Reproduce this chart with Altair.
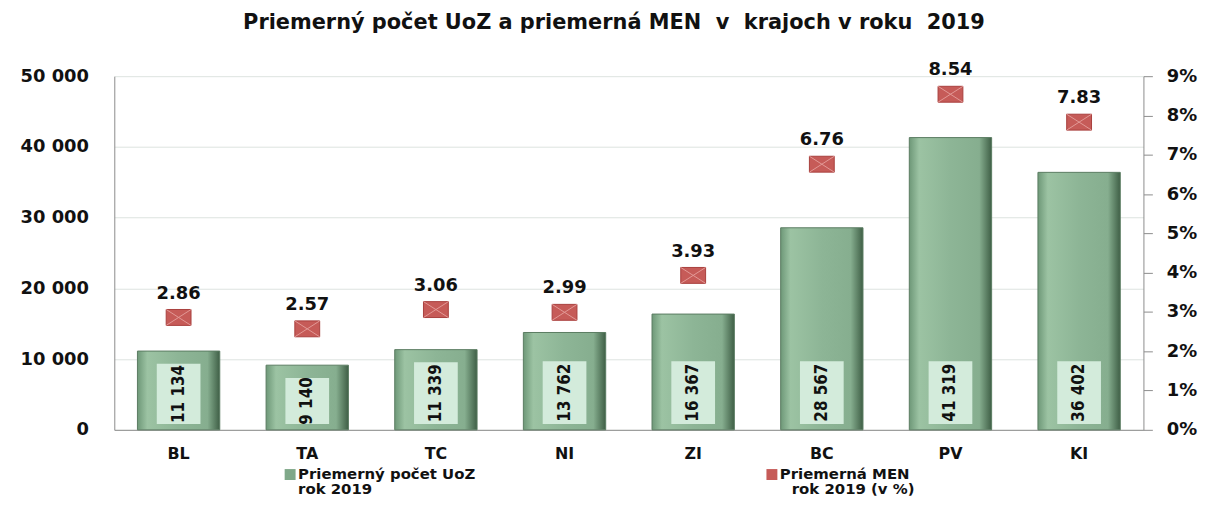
import altair as alt
import pandas as pd

regions = ["BL", "TA", "TC", "NI", "ZI", "BC", "PV", "KI"]
uoz = [11134, 9140, 11339, 13762, 16367, 28567, 41319, 36402]
men = [2.86, 2.57, 3.06, 2.99, 3.93, 6.76, 8.54, 7.83]

title_text = "Priemerný počet UoZ a priemerná MEN \u00a0v \u00a0krajoch v roku \u00a02019"
legend_bar = ["Priemerný počet UoZ", "rok 2019"]
legend_pt = ["Priemerná MEN", "rok 2019 (v %)"]
pct_ticks = [0, 1, 2, 3, 4, 5, 6, 7, 8, 9]
uoz_ticks = [0, 10000, 20000, 30000, 40000, 50000]

df = pd.DataFrame({"region": regions, "uoz": uoz, "men": men})
df["uoz_lbl"] = [f"{v:,}".replace(",", " ") for v in uoz]
df["men_lbl"] = [f"{v:.2f}" for v in men]

FONT = "DejaVu Sans"
W, H = 1036, 356

xenc = alt.X("region:N", sort=regions,
             scale=alt.Scale(paddingInner=0.36, paddingOuter=0.18),
             axis=alt.Axis(title=None, labelAngle=0, labelFont=FONT, labelFontSize=16,
                           labelFontWeight="bold", labelColor="#111", labelPadding=16,
                           domainColor="#8c8c8c", ticks=False, grid=False))
xs = alt.X("region:N", sort=regions)

yleft = alt.Scale(domain=[0, 50000], nice=False)
yright = alt.Scale(domain=[0, 9], nice=False)

right_axis = alt.Axis(title=None, orient="right", values=pct_ticks,
                      labelExpr="datum.value + '%'", labelFont=FONT, labelFontSize=18,
                      labelFontWeight="bold", labelColor="#111", tickSize=9,
                      labelOverlap=False, tickColor="#8c8c8c", domainColor="#8c8c8c",
                      labelPadding=14, grid=False)

bar_grad = alt.Gradient(
    gradient="linear", x1=0, x2=1, y1=0, y2=0,
    stops=[alt.GradientStop(color="#6e9878", offset=0),
           alt.GradientStop(color="#9cc3a3", offset=0.12),
           alt.GradientStop(color="#8db596", offset=0.5),
           alt.GradientStop(color="#86ae8f", offset=0.85),
           alt.GradientStop(color="#3f5f46", offset=1)])

base = alt.Chart(df).transform_calculate(
    box_top="min(9700, datum.uoz - 1800)",
    box_bot="820",
    box_mid="(min(9700, datum.uoz - 1800) + 820) / 2",
)

bars = base.mark_bar(fill=bar_grad, stroke="#5b7c62", strokeWidth=1).encode(
    x=xenc,
    y=alt.Y("uoz:Q", scale=yleft,
            axis=alt.Axis(title=None, values=uoz_ticks,
                          labelExpr="replace(format(datum.value, ','), ',', ' ')",
                          labelFont=FONT, labelFontSize=18, labelFontWeight="bold",
                          labelColor="#111", labelPadding=26, ticks=False,
                          labelOverlap=False,
                          domainColor="#8c8c8c", gridColor="#dde3e0")),
)

boxes = base.mark_bar(width=44, color="#d3ebdb").encode(
    x=xs,
    y=alt.Y("box_top:Q", scale=yleft),
    y2=alt.Y2("box_bot:Q"),
)

bar_text = base.mark_text(angle=270, font="DejaVu Sans Condensed", fontSize=17,
                          fontWeight="bold", color="#111").encode(
    x=xs,
    y=alt.Y("box_mid:Q", scale=yleft),
    text="uoz_lbl:N",
)

left = alt.layer(bars, boxes, bar_text)

pts = base.mark_point(
    shape="M-1,-0.64L1,-0.64L1,0.64L-1,0.64Z", size=625, filled=True,
    fill="#c65b58", stroke="#a8403d", strokeWidth=1, opacity=1).encode(
    x=xs,
    y=alt.Y("men:Q", scale=yright, axis=right_axis),
)

pts_x = base.mark_point(
    shape="M-1,-0.64L1,0.64M1,-0.64L-1,0.64", size=625, filled=False,
    stroke="#e6a09d", strokeWidth=1, opacity=0.9).encode(
    x=xs,
    y=alt.Y("men:Q", scale=yright, axis=right_axis),
)

pt_text = base.mark_text(dy=-24, font=FONT, fontSize=18, fontWeight="bold",
                         color="#111").encode(
    x=xs,
    y=alt.Y("men:Q", scale=yright, axis=right_axis),
    text="men_lbl:N",
)

right = alt.layer(pts, pts_x, pt_text)

# legend (manual)
leg_df = pd.DataFrame({
    "line": legend_bar + legend_pt,
    "lx": [185, 185, 670, 682],
    "ly": [400, 416, 400, 416],
})
leg_text = alt.Chart(leg_df).mark_text(align="left", font=FONT, fontSize=15,
                                       fontWeight="bold", color="#111").encode(
    x=alt.X("lx:Q", scale=None), y=alt.Y("ly:Q", scale=None), text="line:N")

sw_df = pd.DataFrame({"sx": [177, 662], "sy": [401, 401],
                      "col": ["#7fa889", "#c65b58"]})
leg_sw = alt.Chart(sw_df).mark_square(size=121, opacity=1).encode(
    x=alt.X("sx:Q", scale=None), y=alt.Y("sy:Q", scale=None),
    color=alt.Color("col:N", scale=None))

chart = alt.layer(left, right, leg_text, leg_sw).resolve_scale(y="independent").properties(
    width=W, height=H,
    autosize=alt.AutoSizeParams(type="none"),
    padding={"left": 107, "top": 67, "right": 65, "bottom": 68},
    title=alt.TitleParams(title_text, font=FONT, fontSize=21, fontWeight="bold",
                          color="#111", anchor="middle", dx=-15, offset=29),
).configure_view(stroke=None).configure_axis(labelFlush=False)

chart.save("out.html", embed_options={"renderer": "svg", "actions": False})
